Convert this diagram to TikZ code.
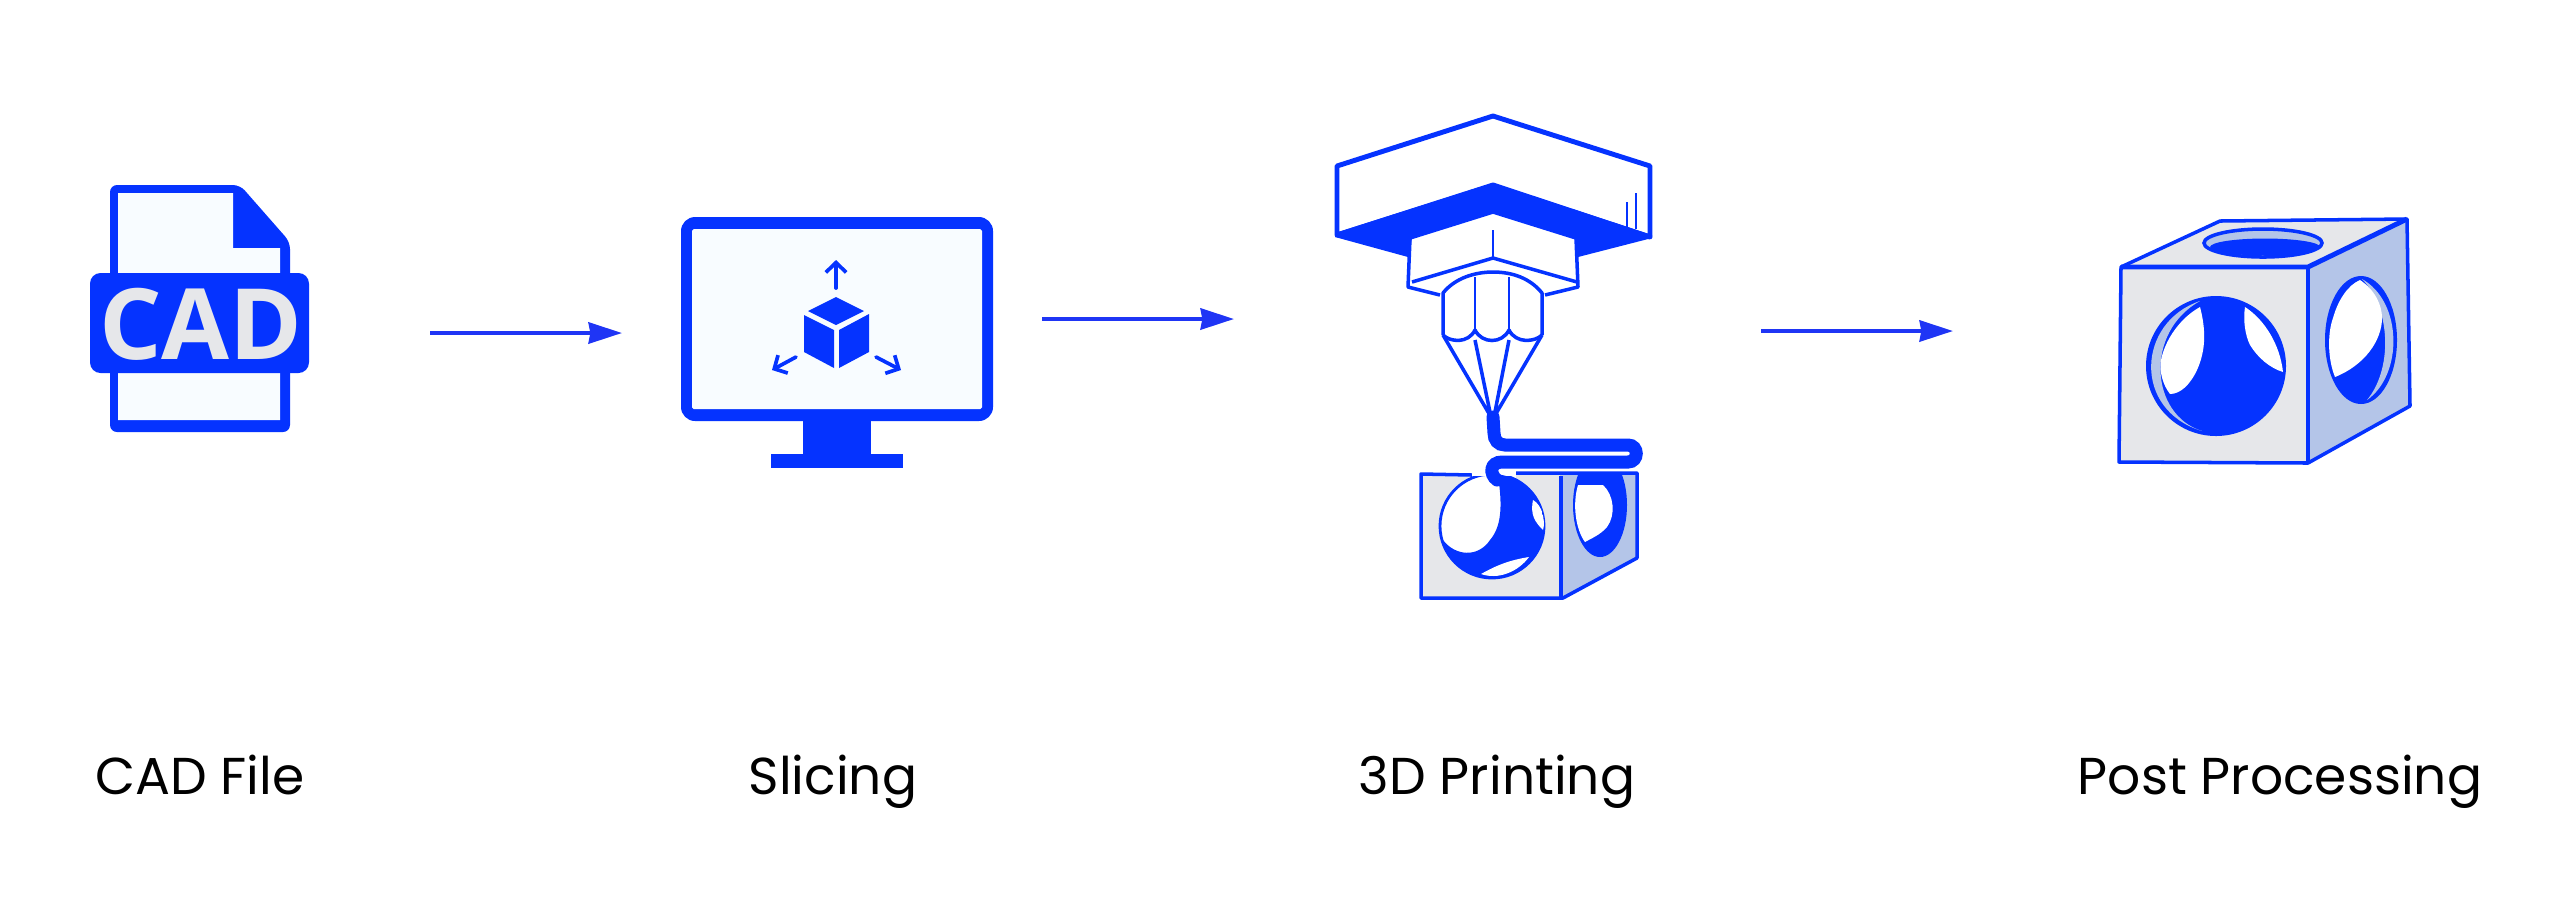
\documentclass[tikz,border=0pt]{standalone}
\usepackage{fontspec}
\setmainfont{Poppins}
\newfontfamily\badgefont{Open Sans}
\usetikzlibrary{arrows.meta}
\definecolor{printblue}{HTML}{0533FF}
\definecolor{flowblue}{HTML}{1F35F5}
\definecolor{paleface}{HTML}{E6E7EA}
\definecolor{shadeface}{HTML}{B4C5E8}
\definecolor{screenwhite}{HTML}{F8FCFF}
\tikzset{
    blueline/.style={draw=printblue,line width=1pt,line join=round},
    thinline/.style={draw=printblue,line width=0.8pt,line join=round},
    boldline/.style={draw=printblue,line width=1.4pt,line join=round},
    flowarrow/.style={draw=flowblue,line width=1.15pt,-{Stealth[length=9.5pt,width=6pt,inset=0.5pt]}},
    tinyarrow/.style={draw=printblue,line width=1.05pt,line cap=round,-{Straight Barb[length=2.8pt,width=5.8pt]}},
    stagelabel/.style={anchor=base,font=\fontsize{14.75}{17}\selectfont,text=black,inner sep=0pt},
}
\begin{document}
\begin{tikzpicture}[x=0.01cm,y=-0.01cm]
    \useasboundingbox (0,0) rectangle (2560,920);
    \fill[white] (0,0) rectangle (2560,920);
    %% cad file
    \fill[printblue,rounded corners=2pt] (110,185) -- (240,185) -- (290,242) -- (290,432) -- (110,432) -- cycle;
    \fill[screenwhite] (118,193) -- (233,193) -- (233,248) -- (280,248) -- (280,420) -- (118,420) -- cycle;
    \fill[printblue,rounded corners=3pt] (90,273) rectangle (309,373);
    \node[anchor=base,inner sep=0pt,text=paleface,font=\badgefont\bfseries\fontsize{28}{30}\selectfont] (cadbadge) at (201,359) {CAD};
    %% monitor
    \fill[printblue,rounded corners=4pt] (681,217) rectangle (993,421);
    \fill[screenwhite,rounded corners=0.5pt] (692,229) rectangle (982,409);
    \fill[printblue] (803,419) rectangle (871,456);
    \fill[printblue] (771,454) rectangle (903,468);
    \fill[printblue] (836,297) -- (864,311) -- (836,325) -- (808,311) -- cycle;
    \fill[printblue] (804,315) -- (834,330) -- (834,368) -- (804,352) -- cycle;
    \fill[printblue] (869,314) -- (839,330) -- (839,368) -- (869,352) -- cycle;
    \coordinate (cubeup) at (836,288);
    \coordinate (cubeleft) at (796,357);
    \coordinate (cuberight) at (876,357);
    \draw[tinyarrow] (cubeup) -- ++(0,-28);
    \draw[tinyarrow] (cubeleft) -- ++(-24,13);
    \draw[tinyarrow] (cuberight) -- ++(25,13);
    %% print head
    \draw[boldline] (1337,166) -- (1493,116) -- (1650,166) -- (1650,237) -- (1493,185) -- (1337,235) -- cycle;
    \fill[printblue] (1335,233) -- (1493,183) -- (1652,235) -- (1652,238) -- (1578,257) -- (1575,238) -- (1493,212) -- (1412,238) -- (1408,257) -- (1335,237) -- cycle;
    \draw[thinline] (1627,202) -- (1627,228);
    \draw[thinline] (1636,193) -- (1636,229);
    \draw[blueline] (1410,238) -- (1493,212) -- (1576,238) -- (1578,287) -- (1545,295);
    \draw[blueline] (1410,238) -- (1408,287) -- (1440,295);
    \draw[blueline] (1412,282) -- (1493,258) -- (1577,282);
    \draw[thinline] (1493,230) -- (1493,258);
    %% nozzle
    \draw[blueline] (1443,335) -- (1443,293) .. controls (1455,278) and (1475,272) .. (1493,272) .. controls (1512,272) and (1530,278) .. (1542,293) -- (1542,335);
    \draw[thinline] (1475,277) -- (1475,330);
    \draw[thinline] (1509,277) -- (1509,330);
    \draw[blueline] (1443,335) .. controls (1450,342) and (1468,344) .. (1475,330) .. controls (1482,344) and (1502,344) .. (1509,330) .. controls (1516,344) and (1535,342) .. (1542,335);
    \draw[blueline] (1443,335) -- (1491,417) -- (1475,340);
    \draw[blueline] (1542,335) -- (1494,417) -- (1509,340);
    %% small cube
    \fill[paleface] (1421,474) rectangle (1560,598);
    \fill[shadeface] (1560,474) -- (1637,473) -- (1637,558) -- (1563,598) -- (1560,598) -- cycle;
    \draw[blueline] (1472,475) -- (1421,474) -- (1421,598) -- (1563,598) -- (1637,558) -- (1637,473) -- (1500,473);
    \draw[boldline] (1561,476) -- (1561,598);
    \begin{scope}
        \clip (1560,473) rectangle (1640,600);
        \fill[printblue] (1600,505) ellipse (27 and 52);
    \end{scope}
    \fill[white] (1578,485) -- (1603,485) .. controls (1614,495) and (1616,515) .. (1607,527) .. controls (1600,535) and (1592,538) .. (1585,542) .. controls (1576,530) and (1572,505) .. (1578,485) -- cycle;
    \fill[white] (1472,470) rectangle (1516,480);
    \fill[white,draw=printblue,line width=0.8pt] (1492,526) circle (52);
    \fill[white] (1472,468) rectangle (1515,476);
    \begin{scope}
        \clip (1492,526) circle (52);
        \fill[printblue] (1497,470) -- (1560,470) -- (1560,590) -- (1430,590) -- (1430,530) -- (1443,540) .. controls (1455,556) and (1478,558) .. (1490,540) .. controls (1500,528) and (1504,510) .. (1497,470) -- cycle;
        \fill[white] (1533,500) .. controls (1530,515) and (1535,522) .. (1543,530) .. controls (1546,520) and (1542,505) .. (1533,500) -- cycle;
        \fill[white] (1481,574) .. controls (1497,565) and (1510,560) .. (1529,557) .. controls (1518,572) and (1498,580) .. (1481,574) -- cycle;
    \end{scope}
    %% filament
    \draw[draw=printblue,line width=3.7pt,line cap=round] (1493,417) -- (1494,433) .. controls (1494,440) and (1498,445) .. (1505,445) -- (1628,445) .. controls (1639,445) and (1639,462) .. (1628,462) -- (1502,462) .. controls (1490,462) and (1489,474) .. (1497,480);
    %% large cube
    \fill[paleface] (2121,267) -- (2220,221) -- (2407,219) -- (2308,267) -- cycle;
    \fill[paleface] (2121,267) -- (2308,267) -- (2308,463) -- (2119,462) -- cycle;
    \fill[shadeface] (2308,267) -- (2407,219) -- (2410,406) -- (2308,463) -- cycle;
    \draw[blueline] (2121,267) -- (2220,221) -- (2407,219) -- (2410,406) -- (2308,463) -- (2119,462) -- cycle;
    \draw[boldline] (2121,267) -- (2308,267) -- (2407,219);
    \draw[boldline] (2308,267) -- (2308,463);
    %% top hole
    \fill[shadeface,draw=printblue,line width=1pt] (2263,243) ellipse (59 and 14);
    \begin{scope}
        \clip (2263,243) ellipse (59 and 14);
        \fill[printblue] (2265,247) ellipse (55 and 8.5);
    \end{scope}
    %% front hole
    \fill[printblue] (2216,366) circle (70);
    \fill[shadeface] (2200,301) .. controls (2137,322) and (2132,410) .. (2202,431) .. controls (2150,415) and (2144,332) .. (2200,301) -- cycle;
    \fill[white] (2200,307) .. controls (2206,330) and (2206,350) .. (2197,370) .. controls (2190,385) and (2180,394) .. (2170,394) .. controls (2163,385) and (2159,372) .. (2161,360) .. controls (2165,340) and (2180,318) .. (2200,307) -- cycle;
    \fill[white] (2245,307) .. controls (2265,320) and (2280,345) .. (2283,372) .. controls (2270,368) and (2258,358) .. (2250,345) .. controls (2245,335) and (2243,320) .. (2245,307) -- cycle;
    %% side hole
    \fill[printblue] (2361,340) ellipse (36 and 64);
    \fill[shadeface] (2362,279) .. controls (2403,302) and (2403,375) .. (2367,400) .. controls (2392,370) and (2392,310) .. (2362,279) -- cycle;
    \fill[white] (2360,280) .. controls (2375,290) and (2382,305) .. (2382,318) .. controls (2382,340) and (2365,365) .. (2335,377) .. controls (2328,360) and (2327,335) .. (2333,318) .. controls (2338,300) and (2348,285) .. (2360,280) -- cycle;
    %% stage labels
    \node[stagelabel] (cadlabel) at (200,794) {CAD File};
    \node[stagelabel] (slicinglabel) at (833,794) {Slicing};
    \node[stagelabel] (printinglabel) at (1497,794) {3D Printing};
    \node[stagelabel] (postlabel) at (2280,794) {Post Processing};
    %% flow
    \coordinate (cadout) at (430,333);
    \coordinate (slicein) at (622,333);
    \coordinate (sliceout) at (1042,319);
    \coordinate (printin) at (1234,319);
    \coordinate (printout) at (1761,331);
    \coordinate (postin) at (1953,331);
    \draw[flowarrow] (cadout) -- (slicein);
    \draw[flowarrow] (sliceout) -- (printin);
    \draw[flowarrow] (printout) -- (postin);
\end{tikzpicture}
\end{document}
